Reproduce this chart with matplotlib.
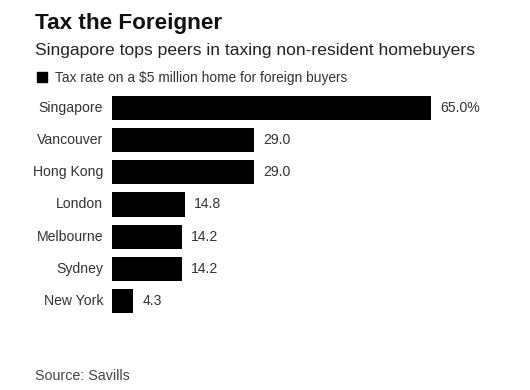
import matplotlib.pyplot as plt

cities = ['Singapore', 'Vancouver', 'Hong Kong', 'London', 'Melbourne', 'Sydney', 'New York']
tax_rates = [65.0, 29.0, 29.0, 14.8, 14.2, 14.2, 4.3]
value_labels = ['65.0%', '29.0', '29.0', '14.8', '14.2', '14.2', '4.3']

plt.rcParams['font.family'] = ['Liberation Sans', 'DejaVu Sans']

W, H = 530, 390
fig = plt.figure(figsize=(W / 100, H / 100), dpi=100)

# axes placed in pixel coords: x from 112, rows from y=92 to 317
left, right, top, bottom = 112, 112 + 80 * 4.91, 92, 317
ax = fig.add_axes([left / W, 1 - bottom / H, (right - left) / W, (bottom - top) / H])

y = list(range(len(cities)))
ax.barh(y, tax_rates, height=0.75, color='black')
ax.set_xlim(0, 80)
ax.set_ylim(len(cities) - 0.5, -0.5)
ax.axis('off')

for i, (v, lab) in enumerate(zip(tax_rates, value_labels)):
    ax.text(v + 1.9, i, lab, va='center', ha='left', fontsize=10.1, color='#333333')
    ax.text(-1.8, i, cities[i], va='center', ha='right', fontsize=10.1, color='#333333')

fig.text(35 / W, 1 - 29 / H, 'Tax the Foreigner', fontsize=16.2, fontweight='bold',
         va='baseline', ha='left', color='#111111')
fig.text(35 / W, 1 - 54.5 / H, 'Singapore tops peers in taxing non-resident homebuyers',
         fontsize=12.6, va='baseline', ha='left', color='#222222')
fig.patches.append(plt.Rectangle((37 / W, 1 - 82 / H), 10 / W, 9.5 / H, color='black',
                                 transform=fig.transFigure, figure=fig))
fig.text(55 / W, 1 - 81.7 / H, 'Tax rate on a $5 million home for foreign buyers',
         fontsize=9.9, va='baseline', ha='left', color='#333333')
fig.text(35 / W, 1 - 380 / H, 'Source: Savills', fontsize=10.3, va='baseline', ha='left',
         color='#444444')

fig.savefig('out.png', dpi=100, facecolor='white')
